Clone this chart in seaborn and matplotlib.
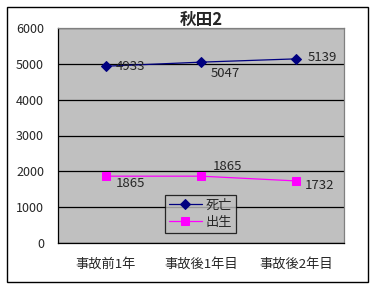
import matplotlib
matplotlib.use("Agg")
import matplotlib.pyplot as plt
import seaborn as sns
import pandas as pd
from matplotlib.patches import Rectangle
from matplotlib.ticker import FixedLocator

categories = ["事故前1年", "事故後1年目", "事故後2年目"]
deaths = [4933, 5047, 5139]
births = [1865, 1865, 1732]
title = "秋田2"
yticks = [0, 1000, 2000, 3000, 4000, 5000, 6000]

sns.set_style("white")
plt.rcParams['font.family'] = ['Noto Sans CJK JP', 'DejaVu Sans']

fig = plt.figure(figsize=(3.77, 2.89), dpi=100)
fig.patch.set_facecolor("white")
ax = fig.add_axes([58/377, (289-243)/289, 286/377, 215/289])
ax.set_facecolor("#C0C0C0")

xs = list(range(len(categories)))
df = pd.DataFrame({"x": xs * 2,
                   "y": deaths + births,
                   "s": ["死亡"] * 3 + ["出生"] * 3})

sns.lineplot(data=df[df.s == "死亡"], x="x", y="y", color="#000080", marker="D",
             markersize=5, markeredgecolor="#000080", linewidth=0.9, ax=ax, label="死亡")
sns.lineplot(data=df[df.s == "出生"], x="x", y="y", color="#FF00FF", marker="s",
             markersize=6, markeredgecolor="#FF00FF", linewidth=0.9, ax=ax, label="出生")

ax.set_xlim(-0.5, 2.5)
ax.set_ylim(0, 6000)
ax.set_yticks(yticks)
ax.set_yticklabels([str(v) for v in yticks], fontsize=9)
ax.set_xticks(xs)
ax.set_xticklabels(categories, fontsize=9.5)
ax.xaxis.set_minor_locator(FixedLocator([0.5, 1.5]))
ax.tick_params(axis="x", which="major", length=0, pad=11)
ax.tick_params(axis="x", which="minor", length=4, direction="in", color="black", width=0.8)
ax.tick_params(axis="y", length=0, pad=10)
ax.grid(axis="y", color="black", linewidth=0.9)
ax.set_axisbelow(True)
ax.set_xlabel("")
ax.set_ylabel("")
for side in ["top", "right"]:
    ax.spines[side].set_color("#808080")
for side in ["left", "bottom"]:
    ax.spines[side].set_color("black")
for sp in ax.spines.values():
    sp.set_linewidth(0.9)

# data labels
offs_d = [(10, 0), (10, -11), (11, 1)]
offs_b = [(10, -7), (12, 10), (8, -5)]
for i, v in enumerate(deaths):
    ax.annotate(str(v), (xs[i], v), xytext=offs_d[i], textcoords="offset pixels",
                ha="left", va="center", fontsize=9.5)
for i, v in enumerate(births):
    ax.annotate(str(v), (xs[i], v), xytext=offs_b[i], textcoords="offset pixels",
                ha="left", va="center", fontsize=9.5)

ax.set_title(title, fontsize=12, fontweight="bold", pad=2)

leg = ax.legend(loc="lower left", bbox_to_anchor=((165-58)/286, (243-233)/215),
                frameon=True, fontsize=9.5, handlelength=2.5, borderpad=0.3,
                labelspacing=0.3, handletextpad=0.3, borderaxespad=0, fancybox=False)
leg.get_frame().set_edgecolor("black")
leg.get_frame().set_facecolor("#C0C0C0")
leg.get_frame().set_linewidth(0.9)

fig.add_artist(Rectangle((7/377, 7/289), (368-7)/377, (282-7)/289,
                         transform=fig.transFigure, fill=False, edgecolor="black",
                         linewidth=1))

fig.savefig("out.png", dpi=100)
